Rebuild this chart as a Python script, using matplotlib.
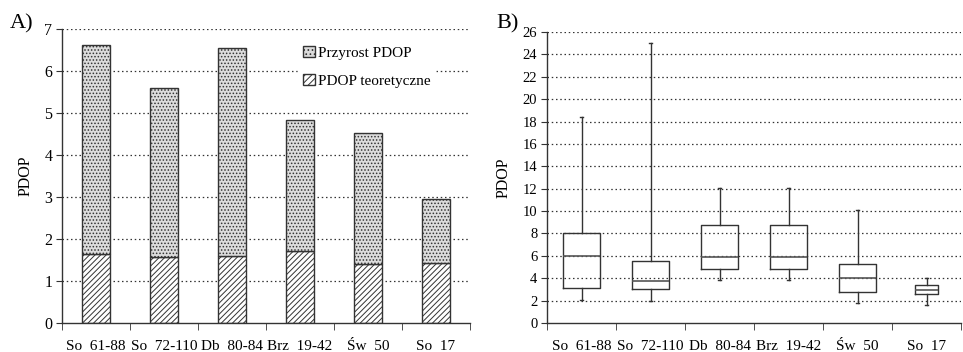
import matplotlib
matplotlib.use("Agg")
import matplotlib.pyplot as plt
import numpy as np
from matplotlib.patches import Patch

plt.rcParams['font.family'] = ['Liberation Serif', 'DejaVu Serif']
plt.rcParams['hatch.linewidth'] = 0.7

categories = ["So  61-88", "So  72-110", "Db  80-84", "Brz  19-42", "Św  50", "So  17"]
pdop_theoretical = [1.64, 1.58, 1.60, 1.72, 1.40, 1.42]
pdop_total = [6.63, 5.60, 6.55, 4.83, 4.53, 2.96]
pdop_increase = [t - b for t, b in zip(pdop_total, pdop_theoretical)]

whisker_low = [2.05, 2.0, 3.82, 3.82, 1.79, 1.64]
q1 = [3.1, 3.0, 4.8, 4.8, 2.77, 2.62]
median = [6.0, 3.78, 5.9, 5.9, 4.05, 2.98]
q3 = [8.08, 5.57, 8.74, 8.74, 5.25, 3.37]
whisker_high = [18.4, 25.05, 12.1, 12.1, 10.13, 4.0]

W, H = 963, 352
fig = plt.figure(figsize=(W / 100, H / 100), dpi=100)
axA = fig.add_axes([62 / W, 29 / H, (470 - 62) / W, (323 - 29) / H])
axB = fig.add_axes([547 / W, 29 / H, (961 - 547) / W, (323 - 32) / H])

def style_axes(ax, ymax, ystep, fs):
    for s in ['top', 'right']:
        ax.spines[s].set_visible(False)
    for s in ['left', 'bottom']:
        ax.spines[s].set_color('#333333')
        ax.spines[s].set_linewidth(1.0)
    ax.set_ylim(0, ymax)
    ax.set_xlim(0, len(categories))
    ax.set_yticks(np.arange(0, ymax + 0.01, ystep))
    ax.tick_params(axis='y', labelsize=fs, length=4, color='#333333', pad=3)
    for y in np.arange(ystep, ymax + 0.01, ystep):
        ax.axhline(y, color='#333333', lw=0.9, ls=(0, (1.2, 2.2)), zorder=0)
    ax.set_xticks(np.arange(len(categories)) + 0.5)
    ax.set_xticklabels(categories, fontsize=11)
    ax.tick_params(axis='x', which='major', length=0, pad=12)
    ax.set_xticks(np.arange(len(categories) + 1), minor=True)
    ax.tick_params(axis='x', which='minor', length=5, color='#333333', direction='out')
    ax.set_ylabel('PDOP', fontsize=11.5, labelpad=8)

x = np.arange(len(categories)) + 0.5
style_axes(axA, 7, 1, 11.5)
axA.bar(x, pdop_theoretical, width=0.41, facecolor='white', edgecolor='#333333',
        hatch='//////', linewidth=1.0, zorder=2)
axA.bar(x, pdop_increase, bottom=pdop_theoretical, width=0.41, facecolor='#dcdcdc',
        edgecolor='#333333', hatch='.....', linewidth=1.0, zorder=2)
handles = [Patch(facecolor='#dcdcdc', edgecolor='#333333', hatch='....', label='Przyrost PDOP'),
           Patch(facecolor='white', edgecolor='#333333', hatch='/////', label='PDOP teoretyczne')]
leg = axA.legend(handles=handles, loc='upper left', bbox_to_anchor=(0.56, 0.985),
                 frameon=True, fontsize=11, handlelength=0.8, handleheight=0.8,
                 handletextpad=0.2, labelspacing=0.9, borderpad=0.3)
leg.get_frame().set_edgecolor('white')
leg.get_frame().set_facecolor('white')
leg.get_frame().set_alpha(1)

style_axes(axB, 26, 2, 10.5)
stats = []
for i in range(len(categories)):
    stats.append(dict(med=median[i], q1=q1[i], q3=q3[i], whislo=whisker_low[i],
                      whishi=whisker_high[i], fliers=[], label=categories[i]))
widths = [0.54, 0.54, 0.54, 0.54, 0.54, 0.32]
axB.bxp(stats, positions=x, widths=widths, showfliers=False, manage_ticks=False,
        boxprops=dict(color='#333333', lw=1.0),
        medianprops=dict(color='#555555', lw=1.2),
        whiskerprops=dict(color='#333333', lw=1.0),
        capprops=dict(color='#333333', lw=1.0), capwidths=0.05)

fig.text(10 / W, 1 - 28 / H, 'A)', fontsize=16)
fig.text(496 / W, 1 - 28 / H, 'B)', fontsize=16)

fig.savefig('out.png', dpi=100)
